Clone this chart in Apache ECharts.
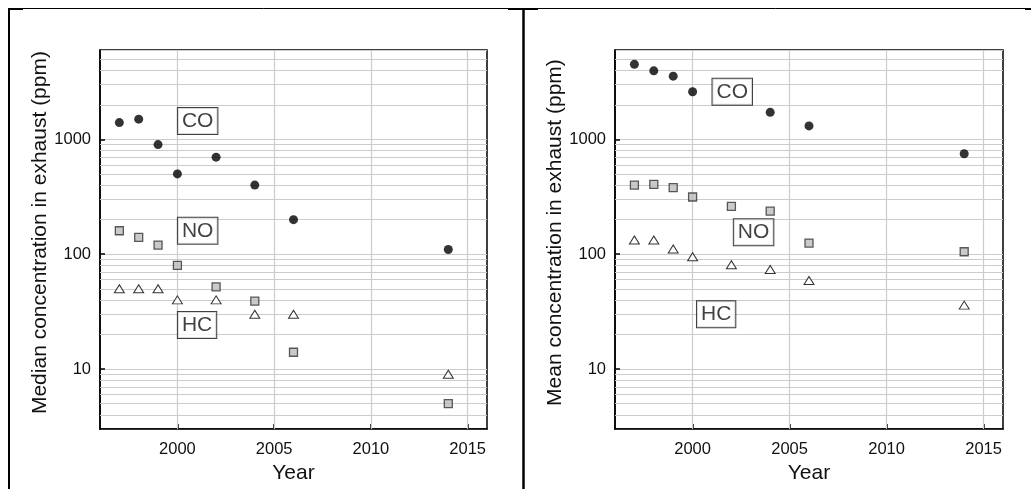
<!DOCTYPE html>
<html>
<head>
<meta charset="utf-8">
<script src="https://cdn.jsdelivr.net/npm/echarts@6/dist/echarts.min.js"></script>
<style>
html,body{margin:0;padding:0;background:#fff;}
#chart{width:1031px;height:489px;}
</style>
</head>
<body>
<div id="chart"></div>
<script>
// ---- data ----
const years = [1997, 1998, 1999, 2000, 2002, 2004, 2006, 2014];
const medianCO = [1400, 1500, 900, 500, 700, 400, 200, 110];
const medianNO = [160, 140, 120, 80, 52, 39, 14, 5];
const medianHC = [50, 50, 50, 40, 40, 30, 30, 9];
const meanCO = [4500, 3950, 3550, 2600, null, 1720, 1310, 750];
const meanNO = [400, 405, 380, 315, 261, 237, 125, 105];
const meanHC = [133, 133, 111, 95, 81, 73.5, 59, 36];
const gasLabels = ['CO', 'NO', 'HC'];
const medianLabelYears = [2000, 2000, 2000];
const medianLabelValues = [1445, 160, 24.2];
const meanLabelYears = [2001, 2002.1, 2000.2];
const meanLabelValues = [2600, 155, 30];
const xTickValues = [2000, 2005, 2010, 2015];
const minorGridValues = [4, 5, 6, 7, 8, 9, 20, 30, 40, 50, 60, 70, 80, 90,
  200, 300, 400, 500, 600, 700, 800, 900, 2000, 3000, 4000, 5000];
const yTitles = ['Median concentration in exhaust (ppm)', 'Mean concentration in exhaust (ppm)'];
const xTitle = 'Year';

// ---- build ----
const FONT = '"Liberation Sans", Arial, sans-serif';
const TXT = '#111';
const GRIDC = '#cccccc';

function pts(vals) {
  const out = [];
  years.forEach((y, i) => { if (vals[i] != null) out.push([y, vals[i]]); });
  return out;
}

function makeAxes(i) {
  const x = {
    type: 'value', gridIndex: i, min: 1996, max: 2016,
    name: xTitle, nameLocation: 'middle', nameGap: 31,
    nameTextStyle: { fontFamily: FONT, fontSize: 21, color: TXT },
    axisLine: { show: true, onZero: false, lineStyle: { color: '#000', width: 1.5 } },
    axisTick: { show: true, inside: true, length: 5, customValues: xTickValues, lineStyle: { color: '#000', width: 1.5 } },
    axisLabel: { show: true, customValues: xTickValues, margin: 12, fontFamily: FONT, fontSize: 16.5, color: TXT,
      formatter: v => String(v) },
    splitLine: { show: false }
  };
  const y = {
    type: 'log', logBase: 10, gridIndex: i, min: 3, max: 6000,
    name: yTitles[i], nameLocation: 'middle', nameGap: 49, nameRotate: 90,
    nameTextStyle: { fontFamily: FONT, fontSize: 21, color: TXT, padding: [0, 0, 0, 14] },
    axisLine: { show: true, onZero: false, lineStyle: { color: '#000', width: 1.5 } },
    axisTick: { show: true, inside: true, length: 5, lineStyle: { color: '#000', width: 1.5 } },
    axisLabel: { show: true, margin: 9, fontFamily: FONT, fontSize: 16.5, color: TXT,
      showMinLabel: false, showMaxLabel: false,
      formatter: v => String(Math.round(v)) },
    splitLine: { show: true, lineStyle: { color: GRIDC, width: 1.2 } }
  };
  return { x, y };
}

function gridLinesSeries(i) {
  const data = [];
  minorGridValues.forEach(v => data.push({ yAxis: v }));
  xTickValues.forEach(v => data.push({ xAxis: v }));
  return {
    type: 'scatter', xAxisIndex: i, yAxisIndex: i, data: [], z: 1, silent: true,
    markLine: {
      silent: true, z: 1, symbol: ['none', 'none'], animation: false,
      label: { show: false },
      lineStyle: { color: GRIDC, width: 1.2, type: 'solid' },
      emphasis: { disabled: true },
      data: data
    }
  };
}

function markerSeries(i, co, no, hc) {
  return [
    { type: 'scatter', xAxisIndex: i, yAxisIndex: i, z: 4, data: pts(co),
      symbol: 'circle', symbolSize: 9, itemStyle: { color: '#000' } },
    { type: 'scatter', xAxisIndex: i, yAxisIndex: i, z: 4, data: pts(no),
      symbol: 'rect', symbolSize: 8, itemStyle: { color: '#bdbdbd', borderColor: '#333', borderWidth: 1.3 } },
    { type: 'scatter', xAxisIndex: i, yAxisIndex: i, z: 4, data: pts(hc),
      symbol: 'triangle', symbolSize: [10, 8], itemStyle: { color: '#fff', borderColor: '#000', borderWidth: 1 } }
  ];
}

function labelSeries(i, ys, vs) {
  return {
    type: 'scatter', xAxisIndex: i, yAxisIndex: i, z: 5, silent: true,
    symbolSize: 1, itemStyle: { color: 'rgba(0,0,0,0)' },
    data: gasLabels.map((t, k) => ({ value: [ys[k], vs[k]], name: t })),
    label: {
      show: true, position: 'right', distance: 0,
      formatter: p => p.name,
      fontFamily: FONT, fontSize: 21, color: TXT,
      backgroundColor: '#fff', borderColor: '#111', borderWidth: 1,
      padding: [3, 4, 2, 4]
    }
  };
}

const a0 = makeAxes(0), a1 = makeAxes(1);

const option = {
  animation: false,
  backgroundColor: '#fff',
  grid: [
    { left: 100, top: 50, width: 387, height: 385, show: true, borderColor: '#000', borderWidth: 1.5, backgroundColor: 'transparent' },
    { left: 615, top: 50, width: 388, height: 386, show: true, borderColor: '#000', borderWidth: 1.5, backgroundColor: 'transparent' }
  ],
  xAxis: [a0.x, a1.x],
  yAxis: [a0.y, a1.y],
  series: [
    gridLinesSeries(0), gridLinesSeries(1),
    ...markerSeries(0, medianCO, medianNO, medianHC),
    ...markerSeries(1, meanCO, meanNO, meanHC),
    labelSeries(0, medianLabelYears, medianLabelValues),
    labelSeries(1, meanLabelYears, meanLabelValues)
  ],
  graphic: [
    { type: 'line', shape: { x1: 8, y1: 8.5, x2: 1031, y2: 8.5 }, style: { stroke: '#000', lineWidth: 1 } },
    { type: 'line', shape: { x1: 8, y1: 9, x2: 23, y2: 9 }, style: { stroke: '#000', lineWidth: 2 } },
    { type: 'line', shape: { x1: 508, y1: 9, x2: 538, y2: 9 }, style: { stroke: '#000', lineWidth: 2 } },
    { type: 'line', shape: { x1: 1025, y1: 9, x2: 1031, y2: 9 }, style: { stroke: '#000', lineWidth: 2 } },
    { type: 'line', shape: { x1: 9, y1: 8, x2: 9, y2: 489 }, style: { stroke: '#000', lineWidth: 2 } },
    { type: 'line', shape: { x1: 523.5, y1: 8, x2: 523.5, y2: 489 }, style: { stroke: '#000', lineWidth: 2.5 } }
  ]
};

const chart = echarts.init(document.getElementById('chart'), null, { renderer: 'canvas' });
chart.setOption(option);
</script>
</body>
</html>
